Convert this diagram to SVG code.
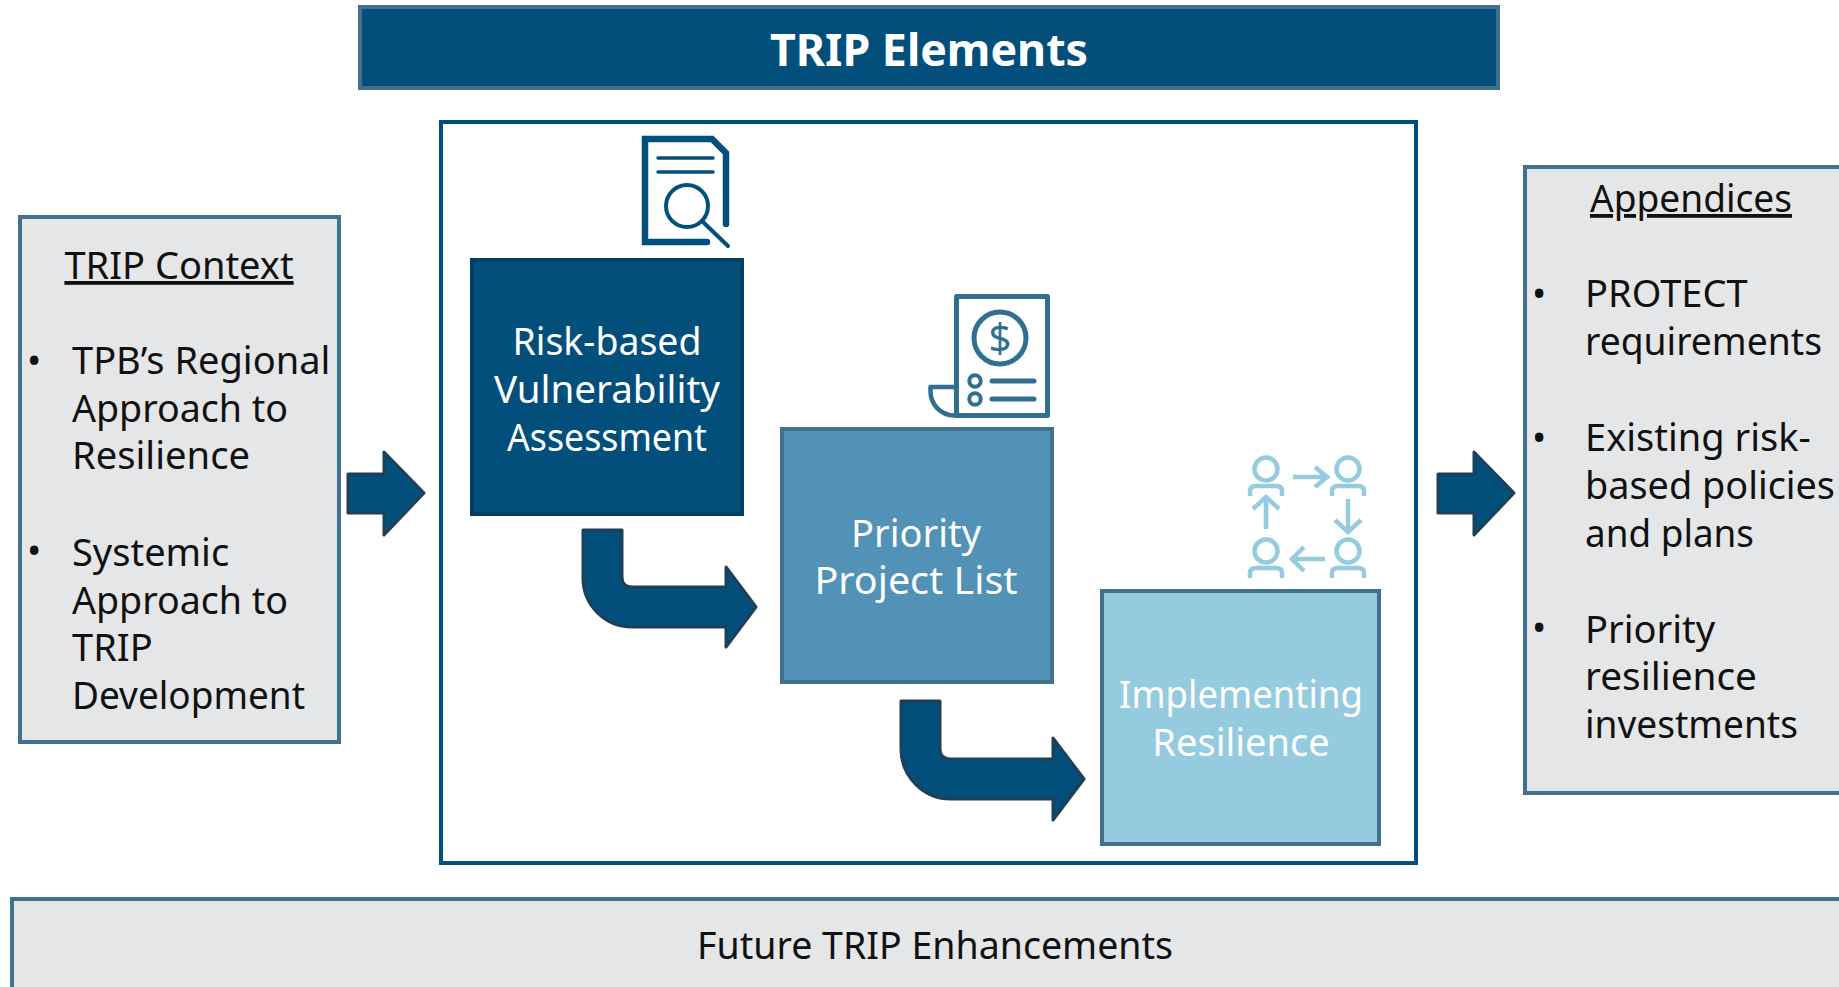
<svg xmlns="http://www.w3.org/2000/svg" width="1839" height="987" viewBox="0 0 1839 987">
<style>
text{font-family:"Noto Sans","Open Sans",sans-serif;font-size:38px;fill:#111}
.w{fill:#fff;text-anchor:middle}
.c{text-anchor:middle}
.u{text-decoration:underline;text-decoration-skip-ink:none}
.g{fill:#e5e6e8;stroke:#41718f;stroke-width:4}
.a{fill:#024f7c;stroke:#1f3f56;stroke-width:3;stroke-linejoin:round}
.i1,.i2,.i3{fill:none;stroke-linecap:round}
.i1{stroke:#024f7c}.i2{stroke:#2e6f92}.i3{stroke:#94cbdf;stroke-linecap:butt}
</style>
<rect width="1839" height="987" fill="#fff"/>
<g id="title"><rect x="360" y="7" width="1138" height="81" fill="#024f7c" stroke="#41718f" stroke-width="4"/><text class="w" x="929" y="66" style="font-size:44.7px;font-weight:700">TRIP Elements</text></g>
<g id="context"><rect class="g" x="20" y="217" width="319" height="525"/>
<text class="c u" x="179" y="279">TRIP Context</text>
<text x="27" y="374">•</text><text x="72" y="374">TPB’s Regional</text><text x="72" y="422" textLength="216" lengthAdjust="spacingAndGlyphs">Approach to</text><text x="72" y="469" textLength="178" lengthAdjust="spacingAndGlyphs">Resilience</text>
<text x="27" y="564">•</text><text x="72" y="566">Systemic</text><text x="72" y="614" textLength="216" lengthAdjust="spacingAndGlyphs">Approach to</text><text x="72" y="661">TRIP</text><text x="72" y="709" textLength="233" lengthAdjust="spacingAndGlyphs">Development</text></g>
<g id="elements"><rect x="441" y="122" width="975" height="741" fill="#fff" stroke="#024f7c" stroke-width="4"/></g>
<g id="risk"><rect x="472" y="260" width="270" height="254" fill="#024f7c" stroke="#013f66" stroke-width="4"/>
<text class="w" x="607" y="355" textLength="189" lengthAdjust="spacingAndGlyphs">Risk-based</text><text class="w" x="607" y="403" textLength="226" lengthAdjust="spacingAndGlyphs">Vulnerability</text><text class="w" x="607" y="451" textLength="200" lengthAdjust="spacingAndGlyphs">Assessment</text>
<g class="i1"><path d="M707 242H645V139H712L726 153V224" stroke-width="6.5"/><path d="M658 158H713M658 172H713" stroke-width="3.5"/><circle cx="687" cy="206" r="21" stroke-width="4"/><path d="M703 222L728 246" stroke-width="4"/></g></g>
<g id="priority"><rect x="782" y="429" width="270" height="253" fill="#5192b6" stroke="#41718f" stroke-width="4"/>
<text class="w" x="916" y="547">Priority</text><text class="w" x="916" y="594" textLength="203" lengthAdjust="spacingAndGlyphs">Project List</text>
<g class="i2"><path d="M956.500 296.500H1047.500V415.500H956.500Z" stroke-width="5" stroke-linejoin="round"/><path d="M956 387H930.500V391A24 24 0 0 0 954 415.500H960" stroke-width="4.500" stroke-linejoin="round"/><circle cx="1000" cy="338" r="26" stroke-width="5"/><circle cx="975" cy="381" r="5.700" stroke-width="4"/><circle cx="975" cy="399" r="5.700" stroke-width="4"/><path d="M992 381H1034M992 399H1034" stroke-width="5"/></g>
<text x="1000" y="352" style="font-size:40px;fill:#2e6f92;text-anchor:middle">$</text></g>
<g id="implementing"><rect x="1102" y="591" width="277" height="253" fill="#94cbdf" stroke="#41718f" stroke-width="4"/>
<text class="w" x="1241" y="708" textLength="244" lengthAdjust="spacingAndGlyphs">Implementing</text><text class="w" x="1241" y="756">Resilience</text>
<g class="i3" stroke-width="4.500"><circle cx="1266" cy="469" r="11.500"/><circle cx="1348" cy="469" r="11.500"/><circle cx="1266" cy="551" r="11.500"/><circle cx="1348" cy="551" r="11.500"/>
<path d="M1250 496V491Q1250 486 1256 486H1276Q1282 486 1282 491V496M1332 496V491Q1332 486 1338 486H1358Q1364 486 1364 491V496M1250 578V573Q1250 568 1256 568H1276Q1282 568 1282 573V578M1332 578V573Q1332 568 1338 568H1358Q1364 568 1364 573V578"/>
<path d="M1293 477H1327M1315 467L1327 477L1315 487M1348 499V532M1335 520L1348 532L1361 520M1325 559H1292M1304 547L1292 559L1304 571M1266 529V497M1253 509L1266 497L1279 509"/></g></g>
<g id="appendices"><rect class="g" x="1525" y="167" width="330" height="626"/>
<text class="c u" x="1691" y="212" textLength="202" lengthAdjust="spacingAndGlyphs">Appendices</text>
<text x="1532" y="307">•</text><text x="1585" y="307">PROTECT</text><text x="1585" y="355" textLength="237" lengthAdjust="spacingAndGlyphs">requirements</text>
<text x="1532" y="451">•</text><text x="1585" y="451">Existing risk-</text><text x="1585" y="499" textLength="250" lengthAdjust="spacingAndGlyphs">based policies</text><text x="1585" y="547" textLength="169" lengthAdjust="spacingAndGlyphs">and plans</text>
<text x="1532" y="641">•</text><text x="1585" y="643">Priority</text><text x="1585" y="690" textLength="172" lengthAdjust="spacingAndGlyphs">resilience</text><text x="1585" y="738" textLength="213" lengthAdjust="spacingAndGlyphs">investments</text></g>
<g id="future"><rect class="g" x="12" y="899" width="1840" height="100"/><text class="c" x="935" y="959" textLength="476" lengthAdjust="spacingAndGlyphs">Future TRIP Enhancements</text></g>
<g id="connectors">
<path class="a" d="M348 474H384V452L424 493L384 535V513H348Z"/>
<path class="a" d="M1438 474H1474V452L1514 493L1474 535V513H1438Z"/>
<path class="a" d="M583 530H622V577Q622 587 632 587H726V567L756 607L726 647V627H632A49 49 0 0 1 583 578Z"/>
<path class="a" d="M901 701H940V749Q940 759 951 759H1053V738L1084 779L1053 820V799H951A50 50 0 0 1 901 749Z"/>
</g>
</svg>
